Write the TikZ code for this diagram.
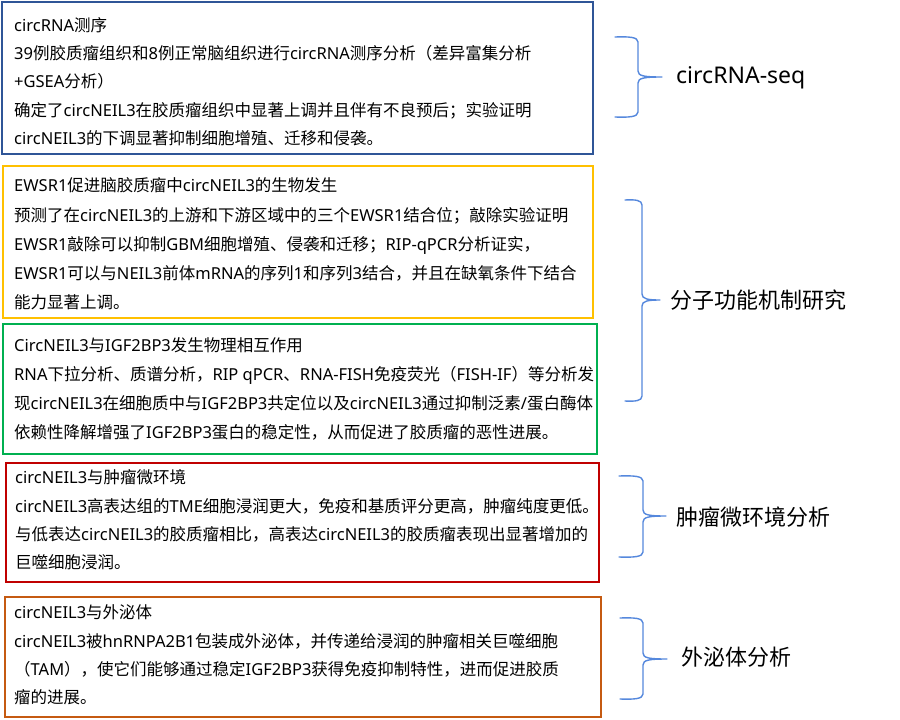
\documentclass[tikz,border=0pt]{standalone}
\usepackage{fontspec}
\setmainfont{Noto Sans}
\newfontfamily\cjkfont{Noto Sans CJK SC}
\newfontfamily\latfont{Noto Sans}
\XeTeXinterchartokenstate=1
\newXeTeXintercharclass\CJKclass
\newcount\cjkcnt
\newcommand\setcjkrange[2]{\cjkcnt=#1\relax
  \loop\XeTeXcharclass\cjkcnt=\CJKclass\relax
  \ifnum\cjkcnt<#2\relax\advance\cjkcnt by 1\relax\repeat}
\setcjkrange{"3000}{"303F}
\setcjkrange{"4E00}{"9FFF}
\setcjkrange{"FF00}{"FFEF}
\XeTeXinterchartoks 0 \CJKclass = {\cjkfont}
\XeTeXinterchartoks 4095 \CJKclass = {\cjkfont}
\XeTeXinterchartoks \CJKclass 0 = {\latfont}
\XeTeXinterchartoks 4095 0 = {\latfont}
\definecolor{cblue}{HTML}{2F5597}
\definecolor{cyellow}{HTML}{FFC000}
\definecolor{cgreen}{HTML}{00B050}
\definecolor{cred}{HTML}{C00000}
\definecolor{corange}{HTML}{C55A11}
\definecolor{cbrace}{HTML}{5588DD}
\newcommand\mybrace[6]{% xl xv xt ytop ymid ybot
  \draw[bracestyle] (#1,#4) .. controls ({#1+0.6*(#2-#1)},{#4-0.5}) and (#2,#4) .. (#2,{#4+5})
    -- (#2,{#5-6}) .. controls (#2,{#5-1}) and ({#2+6},#5) .. (#3,#5)
    .. controls ({#2+6},#5) and (#2,{#5+1}) .. (#2,{#5+6})
    -- (#2,{#6-5}) .. controls (#2,#6) and ({#1+0.6*(#2-#1)},{#6+0.5}) .. (#1,#6);}
\tikzset{
  boxstyle/.style={line width=1.8pt},
  linetext/.style={anchor=base west, inner sep=0pt, font=\fontsize{16.5}{20}\selectfont, text=black},
  labeltext/.style={anchor=base west, inner sep=0pt, font=\fontsize{22}{26}\selectfont, text=black},
  bracestyle/.style={draw=cbrace, line width=1.4pt, line cap=round, line join=round}
}
\begin{document}
\begin{tikzpicture}[x=1pt,y=-1pt]
\useasboundingbox[fill=white] (0,0) rectangle (900,720);
% boxes
\draw[boxstyle, draw=cblue]   (2,2) rectangle (593,154);
\draw[boxstyle, draw=cyellow] (3,166) rectangle (593,318);
\draw[boxstyle, draw=cgreen]  (3,324) rectangle (597,454);
\draw[boxstyle, draw=cred]    (6,463) rectangle (599,582);
\draw[boxstyle, draw=corange] (5,597) rectangle (601,717);
% box 1
\node[linetext] (a1) at (14,31) {circRNA测序};
\node[linetext] (a2) at (14,59) {39例胶质瘤组织和8例正常脑组织进行circRNA测序分析（差异富集分析};
\node[linetext] (a3) at (14,87) {+GSEA分析）};
\node[linetext] (a4) at (14,116) {确定了circNEIL3在胶质瘤组织中显著上调并且伴有不良预后；实验证明};
\node[linetext] (a5) at (14,144) {circNEIL3的下调显著抑制细胞增殖、迁移和侵袭。};
% box 2
\node[linetext] (b1) at (14,191.5) {EWSR1促进脑胶质瘤中circNEIL3的生物发生};
\node[linetext] (b2) at (14,221.5) {预测了在circNEIL3的上游和下游区域中的三个EWSR1结合位；敲除实验证明};
\node[linetext] (b3) at (14,250.5) {EWSR1敲除可以抑制GBM细胞增殖、侵袭和迁移；RIP-qPCR分析证实，};
\node[linetext] (b4) at (14,279.5) {EWSR1可以与NEIL3前体mRNA的序列1和序列3结合，并且在缺氧条件下结合};
\node[linetext] (b5) at (14,308.5) {能力显著上调。};
% box 3
\node[linetext] (c1) at (14,351.5) {CircNEIL3与IGF2BP3发生物理相互作用};
\node[linetext] (c2) at (14,380.5) {RNA下拉分析、质谱分析，RIP qPCR、RNA-FISH免疫荧光（FISH-IF）等分析发};
\node[linetext] (c3) at (14,409.5) {现circNEIL3在细胞质中与IGF2BP3共定位以及circNEIL3通过抑制泛素/蛋白酶体};
\node[linetext] (c4) at (14,438.5) {依赖性降解增强了IGF2BP3蛋白的稳定性，从而促进了胶质瘤的恶性进展。};
% box 4
\node[linetext] (d1) at (15,483.5) {circNEIL3与肿瘤微环境};
\node[linetext] (d2) at (15,512.5) {circNEIL3高表达组的TME细胞浸润更大，免疫和基质评分更高，肿瘤纯度更低。};
\node[linetext] (d3) at (15,540.5) {与低表达circNEIL3的胶质瘤相比，高表达circNEIL3的胶质瘤表现出显著增加的};
\node[linetext] (d4) at (15,568.5) {巨噬细胞浸润。};
% box 5
\node[linetext] (e1) at (14,618.5) {circNEIL3与外泌体};
\node[linetext] (e2) at (14,647.5) {circNEIL3被hnRNPA2B1包装成外泌体，并传递给浸润的肿瘤相关巨噬细胞};
\node[linetext] (e3) at (14,675.5) {（TAM），使它们能够通过稳定IGF2BP3获得免疫抑制特性，进而促进胶质};
\node[linetext] (e4) at (14,703.5) {瘤的进展。};
% braces
\mybrace{615}{638}{662}{37}{77}{117}
\mybrace{625}{642}{660}{200}{300}{401}
\mybrace{619}{643}{666}{476}{516}{557}
\mybrace{620}{643}{667}{618}{659}{699}
% labels
\node[labeltext, font=\fontsize{23}{26}\selectfont] (l1) at (676,83) {circRNA-seq};
\node[labeltext] (l2) at (670,308.5) {分子功能机制研究};
\node[labeltext] (l3) at (676,525) {肿瘤微环境分析};
\node[labeltext] (l4) at (681,665.5) {外泌体分析};
\end{tikzpicture}
\end{document}
